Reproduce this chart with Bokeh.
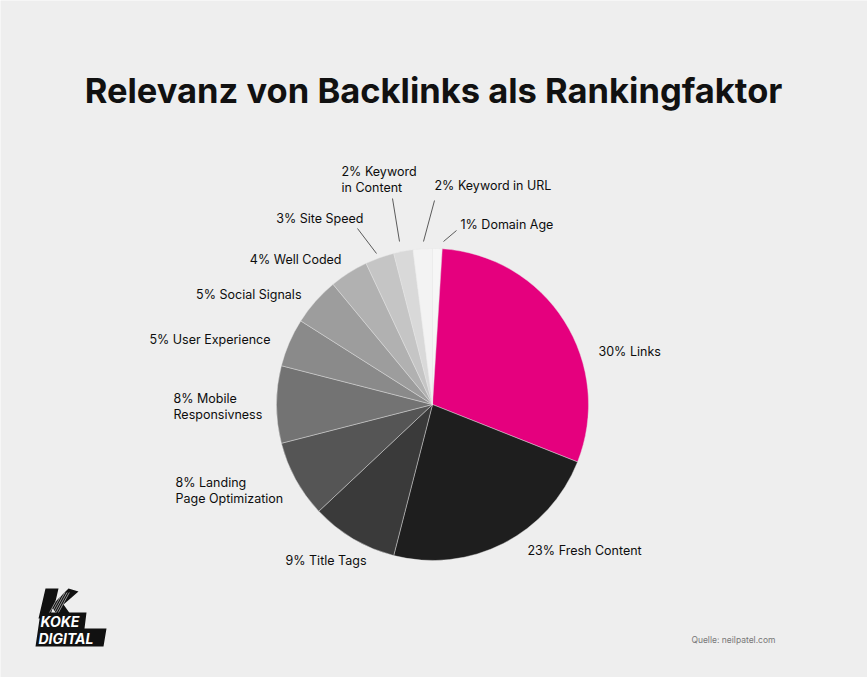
import math
from bokeh.plotting import figure
from bokeh.models import Range1d
from bokeh.core.properties import value
from bokeh.embed import file_html
from bokeh.resources import INLINE

W, H = 867, 677

# ---- data (clockwise from 12 o'clock) ----
categories = ["Domain Age", "Links", "Fresh Content", "Title Tags", "Landing Page Optimization",
              "Mobile Responsivness", "User Experience", "Social Signals", "Well Coded",
              "Site Speed", "Keyword in Content", "Keyword in URL"]
shares = [1, 30, 23, 9, 8, 8, 5, 5, 4, 3, 2, 2]
label_texts = ["1% Domain Age", "30% Links", "23% Fresh Content", "9% Title Tags",
               "8% Landing\nPage Optimization", "8% Mobile\nResponsivness", "5% User Experience",
               "5% Social Signals", "4% Well Coded", "3% Site Speed", "2% Keyword\nin Content",
               "2% Keyword in URL"]
colors = ["#f6f6f6", "#e5007e", "#1e1e1e", "#3a3a3a", "#555555", "#737373", "#8a8a8a",
          "#9d9d9d", "#b1b1b1", "#c5c5c5", "#d9d9d9", "#f3f3f3"]

title = "Relevanz von Backlinks als Rankingfaktor"
source_note = "Quelle: neilpatel.com"

# ---- layout (pixel positions, y measured from top) ----
CX, CY, R = 432, 404, 156
label_pos = [(460, 224, "left"), (598, 351, "left"), (527, 550, "left"), (366, 560, "right"),
             (175, 490, "left"), (173, 406, "left"), (270, 339, "right"), (301, 294, "right"),
             (341, 259, "right"), (363, 218, "right"), (341, 179, "left"), (434, 185, "left")]
leaders = {0: (456, 230, 443, 241), 9: (357, 228, 376, 253), 10: (392, 198, 399, 241),
           11: (434, 200, 423, 241)}

def fy(py):
    return H - py

p = figure(width=W, height=H, output_backend="svg", toolbar_location=None,
           x_range=Range1d(0, W), y_range=Range1d(0, H), min_border=0)
p.axis.visible = False
p.grid.visible = False
p.outline_line_color = None
p.background_fill_color = "#eeeeee"
p.border_fill_color = "#eeeeee"

# wedges
total = sum(shares)
starts, ends = [], []
acc = 0.0
for s in shares:
    a0 = acc / total * 360
    acc += s
    a1 = acc / total * 360
    starts.append(math.radians(90 - a0))
    ends.append(math.radians(90 - a1))
p.wedge(x=[CX] * len(shares), y=[fy(CY)] * len(shares), radius=R,
        start_angle=starts, end_angle=ends, direction="clock",
        fill_color=colors, line_color="#e8e8e8", line_width=0.6, line_alpha=0.7)

# leader lines
for i, (x0, y0, x1, y1) in leaders.items():
    p.line([x0, x1], [fy(y0), fy(y1)], line_color="#333333", line_width=0.8)

# labels
for txt, (lx, ly, al) in zip(label_texts, label_pos):
    p.text(x=[lx], y=[fy(ly)], text=[txt], text_align=al, text_baseline="middle",
           text_font=value("Inter"), text_font_size="12.5px", text_color="#0d0d0d",
           text_line_height=1.1)

# title
p.text(x=[433], y=[fy(90)], text=[title], text_align="center", text_baseline="middle",
       text_font=value("Inter"), text_font_style="bold", text_font_size="34.5px",
       text_color="#111111")

# source
p.text(x=[775], y=[fy(639)], text=[source_note], text_align="right", text_baseline="middle",
       text_font=value("Inter"), text_font_size="8.5px", text_color="#777777")

# logo (approximation)
kx = [38, 45, 58, 55, 68, 78, 63, 73, 60, 52, 49]
ky = [618, 588, 588, 601, 588, 591, 604, 618, 618, 608, 618]
p.patch(kx, [fy(v) for v in ky], fill_color="#111111", line_color=None)
for i in range(5):
    p.line([47 + i * 2.2, 60 + i * 2.2], [fy(616), fy(592)], line_color="#eeeeee", line_width=0.6)
bx = [40, 86, 84, 106, 103, 35]
by = [612, 612, 628, 628, 646, 646]
p.patch(bx, [fy(v) for v in by], fill_color="#111111", line_color=None)
p.text(x=[40], y=[fy(620.5)], text=["KOKE"], text_align="left", text_baseline="middle",
       text_font=value("Inter"), text_font_style="bold italic", text_font_size="14px",
       text_color="#ffffff")
p.text(x=[38], y=[fy(637.5)], text=["DIGITAL"], text_align="left", text_baseline="middle",
       text_font=value("Inter"), text_font_style="bold italic", text_font_size="14px",
       text_color="#ffffff")

open("out.html", "w").write(file_html(p, INLINE))
